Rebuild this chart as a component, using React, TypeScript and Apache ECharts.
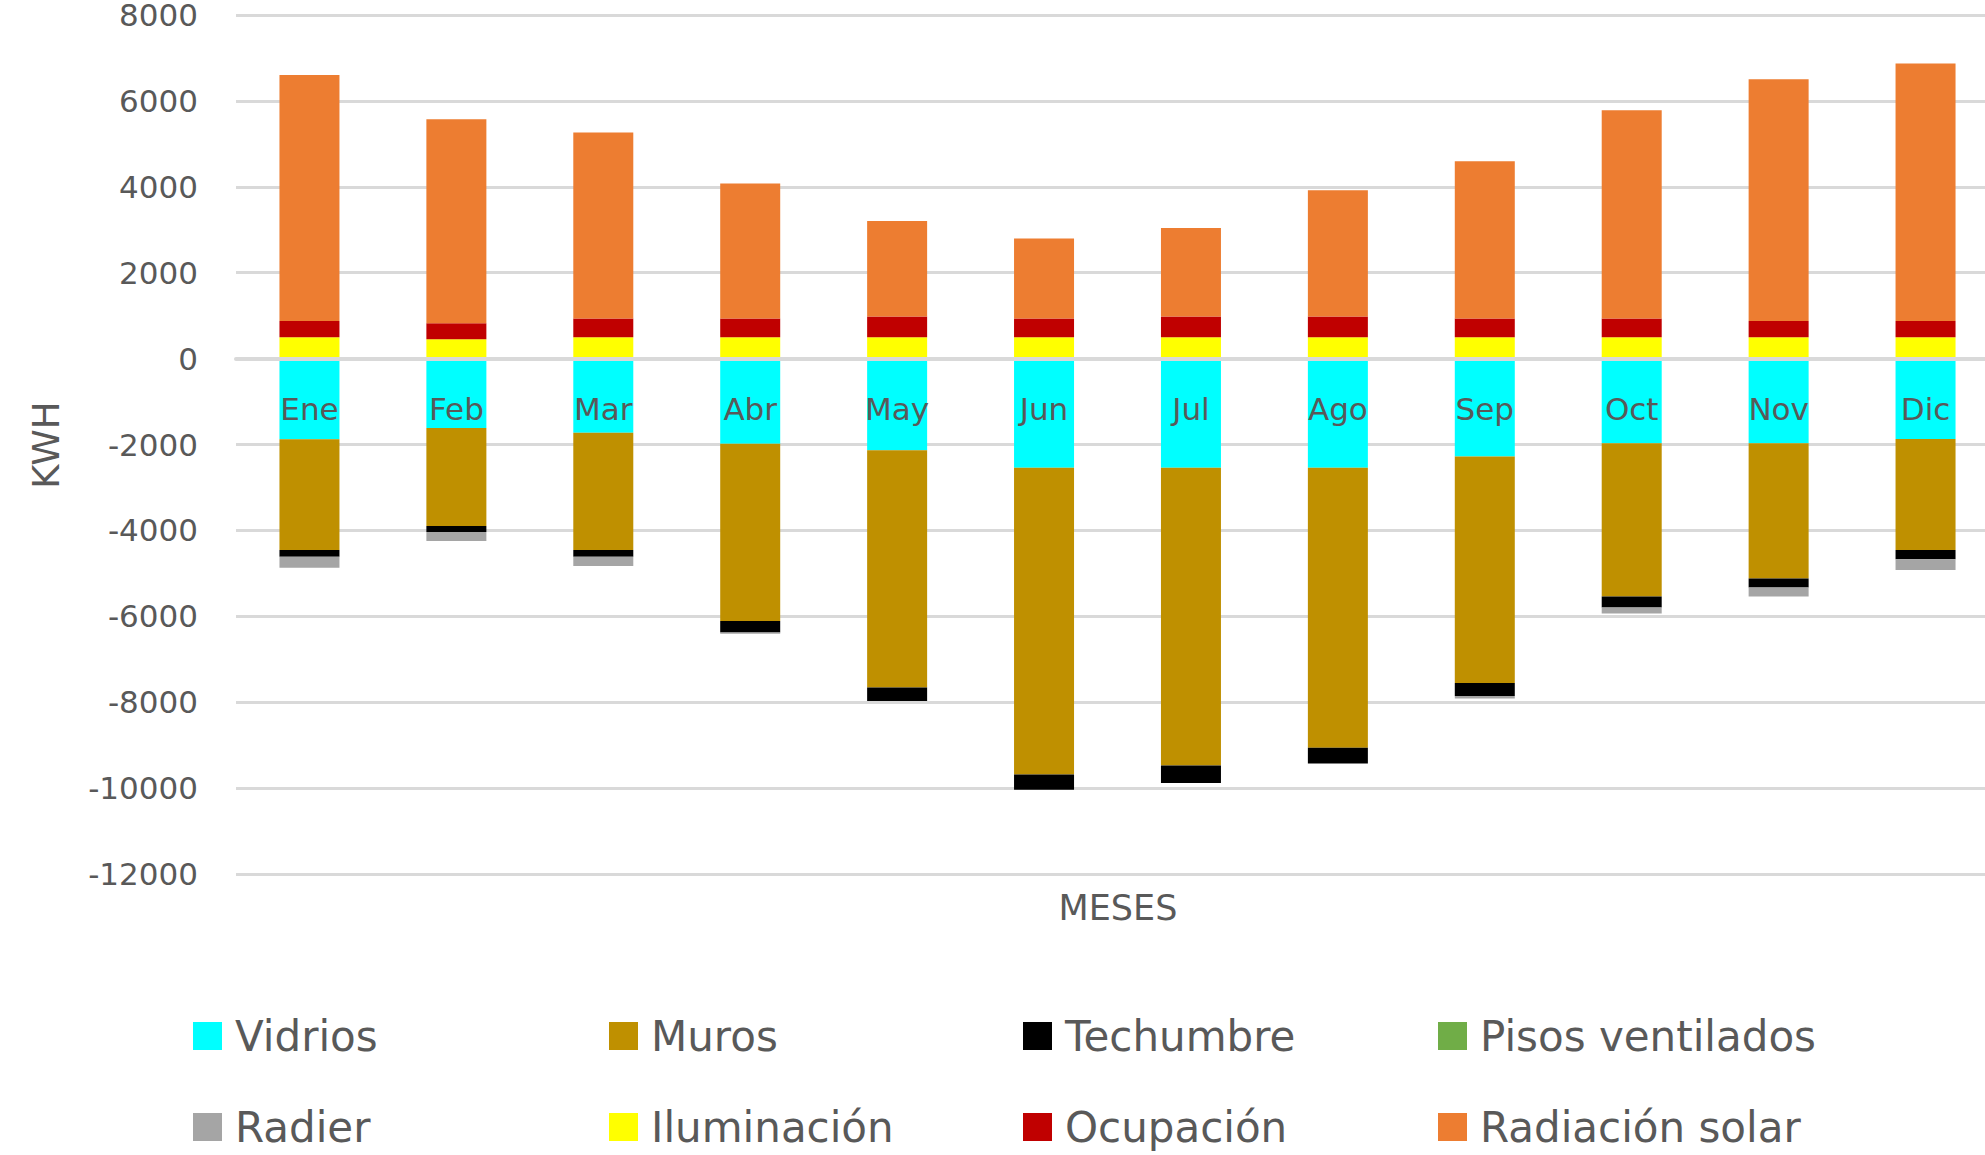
import React, { useEffect, useRef } from "react";
import * as echarts from "echarts";

// Monthly thermal balance (kWh): losses below zero, gains above zero
const months = ["Ene", "Feb", "Mar", "Abr", "May", "Jun", "Jul", "Ago", "Sep", "Oct", "Nov", "Dic"];

const vidrios = [-1880, -1615, -1725, -1980, -2135, -2540, -2540, -2540, -2280, -1970, -1970, -1870];
const muros = [-2577, -2282, -2732, -4129, -5525, -7141, -6931, -6519, -5271, -3569, -3150, -2584];
const techumbre = [-155, -140, -155, -271, -312, -356, -412, -366, -303, -256, -210, -217];
const pisosVentilados = [0, 0, 0, 0, 0, 0, 0, 0, 0, 0, 0, 0];
const radier = [-255, -209, -217, -25, 0, 0, 0, 0, -60, -140, -209, -249];
const iluminacion = [500, 450, 500, 500, 500, 500, 500, 500, 500, 500, 500, 500];
const ocupacion = [375, 372, 431, 431, 478, 431, 478, 478, 431, 431, 375, 375];
const radiacionSolar = [5728, 4750, 4331, 3143, 2226, 1863, 2063, 2940, 3663, 4850, 5628, 5993];

const yTicks = { min: -12000, max: 8000, interval: 2000 };

const seriesDefs = [
  { name: "Vidrios", data: vidrios, color: "#00FFFF" },
  { name: "Muros", data: muros, color: "#BF9000" },
  { name: "Techumbre", data: techumbre, color: "#000000" },
  { name: "Pisos ventilados", data: pisosVentilados, color: "#70AD47" },
  { name: "Radier", data: radier, color: "#A5A5A5" },
  { name: "Iluminación", data: iluminacion, color: "#FFFF00" },
  { name: "Ocupación", data: ocupacion, color: "#C00000" },
  { name: "Radiación solar", data: radiacionSolar, color: "#ED7D31" },
];

const FONT = "DejaVu Sans";
const TEXT = "#595959";
const GRIDLINE = "#D9D9D9";

const WIDTH = 1985;
const HEIGHT = 1155;
// plot area runs a little past the right edge of the canvas
const GRID = { left: 236, width: 1763, top: 15, bottom: 281 };

// legend laid out as a 4 x 2 table
const legendCols = [193, 609, 1023, 1438];
const legendRows = [1036, 1127];

export default function App() {
  const ref = useRef<HTMLDivElement>(null);

  useEffect(() => {
    if (!ref.current) return;
    const chart = echarts.init(ref.current, null, { renderer: "svg" });

    // the category axis crosses the value axis at 0: shift it up from the grid bottom
    const gridHeight = HEIGHT - GRID.top - GRID.bottom;
    const zeroOffset = -gridHeight * (0 - yTicks.min) / (yTicks.max - yTicks.min);

    const legends = seriesDefs.map((s, i) => ({
      left: legendCols[i % 4],
      top: legendRows[Math.floor(i / 4)] - 21,
      padding: 0,
      itemGap: 0,
      itemWidth: 29,
      itemHeight: 28,
      icon: "rect",
      data: [s.name],
      textStyle: {
        fontFamily: FONT,
        fontSize: 42,
        color: TEXT,
        padding: [0, 0, 0, 8],
      },
    }));

    chart.setOption({
      animation: false,
      backgroundColor: "#FFFFFF",
      textStyle: { fontFamily: FONT },
      grid: { ...GRID, containLabel: false, outerBoundsMode: "none" },
      legend: legends,
      xAxis: {
        type: "category",
        data: months,
        z: 5,
        offset: zeroOffset,
        axisLine: { onZero: false, lineStyle: { color: GRIDLINE, width: 4 } },
        axisTick: { show: false },
        axisLabel: { fontFamily: FONT, fontSize: 31, color: TEXT, margin: 35 },
        splitLine: { show: false },
      },
      yAxis: {
        type: "value",
        min: yTicks.min,
        max: yTicks.max,
        interval: yTicks.interval,
        axisLine: { show: false },
        axisTick: { show: false },
        axisLabel: {
          fontFamily: FONT,
          fontSize: 31,
          color: TEXT,
          margin: 38,
          formatter: (v: number) => String(v),
        },
        splitLine: { lineStyle: { color: GRIDLINE, width: 3 } },
      },
      series: seriesDefs.map((s) => ({
        name: s.name,
        type: "bar",
        stack: "balance",
        barWidth: 60,
        data: s.data,
        itemStyle: { color: s.color },
        emphasis: { disabled: true },
      })),
      graphic: [
        {
          type: "text",
          x: 1118,
          y: 908,
          style: {
            text: "MESES",
            fontFamily: FONT,
            fontSize: 35,
            fill: TEXT,
            textAlign: "center",
            textVerticalAlign: "middle",
          },
        },
        {
          type: "text",
          x: 46,
          y: 445,
          rotation: Math.PI / 2,
          style: {
            text: "KWH",
            fontFamily: FONT,
            fontSize: 37,
            fill: TEXT,
            textAlign: "center",
            textVerticalAlign: "middle",
          },
        },
      ],
    });

    return () => chart.dispose();
  }, []);

  return (
    <div
      ref={ref}
      style={{ position: "fixed", left: 0, top: 0, width: WIDTH, height: HEIGHT, background: "#fff" }}
    />
  );
}
